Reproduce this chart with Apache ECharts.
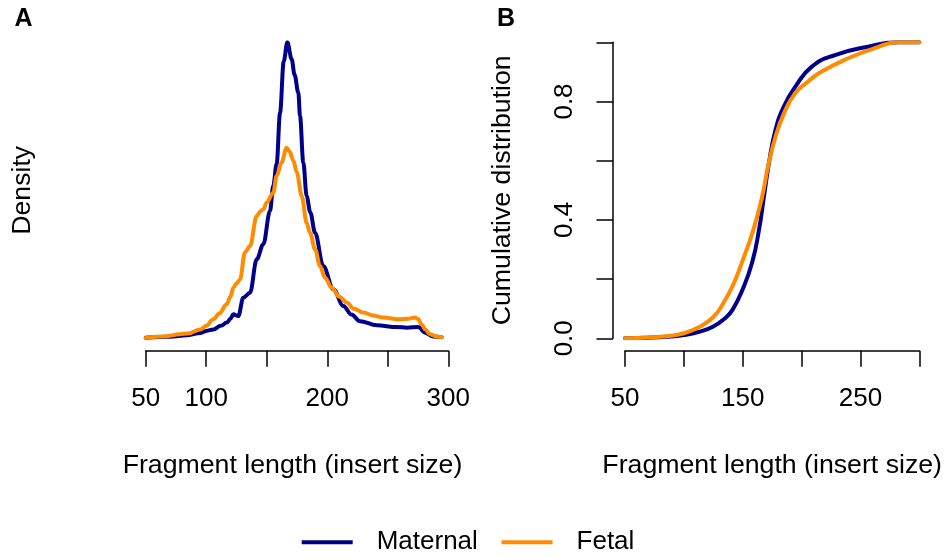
<!DOCTYPE html>
<html>
<head>
<meta charset="utf-8">
<script src="https://cdn.jsdelivr.net/npm/echarts@6/dist/echarts.min.js"></script>
<style>
  html, body { margin: 0; padding: 0; background: #fff; }
  #chart { width: 945px; height: 559px; }
</style>
</head>
<body>
<div id="chart"></div>
<script>
// Fragment length density (relative scale, maternal peak = 1) — [insert size, density]
const maternalDensity = [
  [50, 0.002], [70, 0.005], [84, 0.010], [95, 0.018], [100, 0.025], [106, 0.030],
  [112, 0.042], [117, 0.053], [120, 0.066], [122.4, 0.081], [126.5, 0.075],
  [130.6, 0.137], [136.2, 0.154], [141.7, 0.267], [147.2, 0.318], [152.7, 0.430],
  [155.4, 0.515], [158.2, 0.590], [161, 0.762], [164, 0.935], [167, 1.000],
  [170.6, 0.943], [173, 0.890], [176.1, 0.830], [177.5, 0.751], [180.2, 0.594],
  [183, 0.480], [186, 0.425], [189.9, 0.357], [196.7, 0.244], [205, 0.166],
  [213.3, 0.109], [220, 0.080], [227, 0.058], [240.8, 0.044], [257.4, 0.038],
  [266, 0.036], [275.2, 0.038], [280.8, 0.019], [287.6, 0.006], [294.5, 0.004]
];
const fetalDensity = [
  [50, 0.002], [65, 0.006], [78.3, 0.014], [85, 0.016], [95, 0.030], [100, 0.042],
  [105.8, 0.064], [111, 0.085], [116.9, 0.115], [120, 0.140], [122.4, 0.171],
  [125, 0.185], [127.9, 0.199], [132, 0.290], [136.2, 0.312], [141.7, 0.413],
  [145, 0.430], [147.2, 0.436], [150, 0.459], [155.4, 0.492], [158.2, 0.548],
  [162, 0.592], [166.5, 0.644], [169, 0.630], [172, 0.600], [174.8, 0.561],
  [178.9, 0.480], [183, 0.390], [185.7, 0.357], [190, 0.300],
  [194, 0.244], [198, 0.205], [203.7, 0.171], [210, 0.140], [216.1, 0.121],
  [222, 0.100], [229.8, 0.087], [238, 0.077], [246.3, 0.070], [260.1, 0.064],
  [267, 0.066], [272.5, 0.070], [275, 0.065], [278, 0.047], [281, 0.030],
  [284.9, 0.014], [290, 0.006], [294.5, 0.004]
];

// Cumulative distribution of fragment length — [insert size, fraction]
const maternalCdf = [
  [50, 0], [70, 0.002], [85, 0.005], [100, 0.011], [113, 0.022],
  [125, 0.040], [135, 0.068], [141.3, 0.096], [149.7, 0.163], [158.1, 0.258],
  [163.8, 0.366], [168, 0.478], [172.2, 0.591], [177.8, 0.704], [184.8, 0.782],
  [194.7, 0.850], [208.7, 0.918], [228.4, 0.957], [256.4, 0.985], [281.7, 1.0], [300, 1.0]
];
const fetalCdf = [
  [50, 0], [70, 0.003], [85, 0.007], [100, 0.017], [113, 0.038],
  [125, 0.072], [134, 0.122], [142, 0.182], [150, 0.264], [158.5, 0.360],
  [166, 0.470], [172, 0.590], [177.8, 0.680], [184.5, 0.755], [194, 0.825],
  [205, 0.866], [217.1, 0.901], [239.6, 0.946], [262.1, 0.980], [281.7, 1.0], [300, 1.0]
];

// Tick values that carry a printed label
const lengthLabelsA = [50, 100, 200, 300];
const lengthLabelsB = [50, 150, 250];
const cdfLabels = [0, 0.4, 0.8];

const MATERNAL = '#00008B';
const FETAL = '#FF8C00';
const FONT = "'Liberation Sans', Arial, Helvetica, sans-serif";
const INK = '#000';
const LINE_W = 4;
const NAME_SIZE = 26.7;

const hasValue = (list, v) => list.some(t => Math.abs(t - v) < 1e-9);

function lengthAxis(gridIndex, labelled, namePad) {
  return {
    type: 'value', gridIndex, min: 50, max: 300, interval: 50, offset: 12.4,
    axisLine: { show: true, onZero: false, lineStyle: { color: INK, width: 1.5 } },
    axisTick: { show: true, length: 16, lineStyle: { color: INK, width: 1.5 } },
    splitLine: { show: false },
    axisLabel: {
      color: INK, fontSize: 26, fontFamily: FONT, margin: 35,
      formatter: v => hasValue(labelled, v) ? String(v) : ''
    },
    name: 'Fragment length (insert size)', nameLocation: 'middle', nameGap: 101,
    nameTextStyle: { color: INK, fontSize: NAME_SIZE, fontFamily: FONT, padding: namePad }
  };
}

function curve(name, color, xi, data, smooth, monotone) {
  return {
    name, type: 'line', xAxisIndex: xi, yAxisIndex: xi, data,
    symbol: 'none', smooth, smoothMonotone: monotone,
    lineStyle: { color, width: LINE_W, cap: 'round', join: 'round' },
    itemStyle: { color }
  };
}

const chart = echarts.init(document.getElementById('chart'), null, { renderer: 'canvas' });

chart.setOption({
  animation: false,
  backgroundColor: '#fff',
  textStyle: { fontFamily: FONT, color: INK },
  title: [
    { text: 'A', left: 14.5, top: 7, padding: 0, textStyle: { fontSize: 25, fontWeight: 'bold', color: INK, fontFamily: FONT } },
    { text: 'B', left: 497, top: 7, padding: 0, textStyle: { fontSize: 25, fontWeight: 'bold', color: INK, fontFamily: FONT } }
  ],
  legend: {
    data: ['Maternal', 'Fetal'],
    left: 301.7, top: 529.3, orient: 'horizontal',
    icon: 'rect', itemWidth: 51, itemHeight: 4, itemGap: 23.7,
    padding: 0,
    textStyle: { color: INK, fontSize: 26, fontFamily: FONT, padding: [0, 0, 0, 19] }
  },
  grid: [
    { left: 145.7, top: 42.3, width: 302.6, height: 296 },
    { left: 625, top: 42.3, width: 296.7, height: 296 }
  ],
  xAxis: [
    lengthAxis(0, lengthLabelsA, [0, 9, 0, 0]),
    lengthAxis(1, lengthLabelsB, 0)
  ],
  yAxis: [
    {
      type: 'value', gridIndex: 0, min: 0, max: 1, offset: 13,
      axisLine: { show: false }, axisTick: { show: false },
      axisLabel: { show: false }, splitLine: { show: false },
      name: 'Density', nameLocation: 'middle', nameGap: 97,
      nameTextStyle: { color: INK, fontSize: NAME_SIZE, fontFamily: FONT }
    },
    {
      type: 'value', gridIndex: 1, min: 0, max: 1, interval: 0.2, offset: 12,
      axisLine: { show: true, onZero: false, lineStyle: { color: INK, width: 1.5 } },
      axisTick: { show: true, length: 16.5, lineStyle: { color: INK, width: 1.5 } },
      splitLine: { show: false },
      axisLabel: {
        color: INK, fontSize: 26, fontFamily: FONT, rotate: 90, margin: 35,
        formatter: v => hasValue(cdfLabels, v) ? v.toFixed(1) : ''
      },
      name: 'Cumulative distribution', nameLocation: 'middle', nameGap: 97,
      nameTextStyle: { color: INK, fontSize: NAME_SIZE, fontFamily: FONT }
    }
  ],
  series: [
    curve('Maternal', MATERNAL, 0, maternalDensity, 0.35, 'x'),
    curve('Fetal', FETAL, 0, fetalDensity, 0.35, 'x'),
    curve('Maternal', MATERNAL, 1, maternalCdf, 0.5, null),
    curve('Fetal', FETAL, 1, fetalCdf, 0.5, null)
  ]
});
</script>
</body>
</html>
